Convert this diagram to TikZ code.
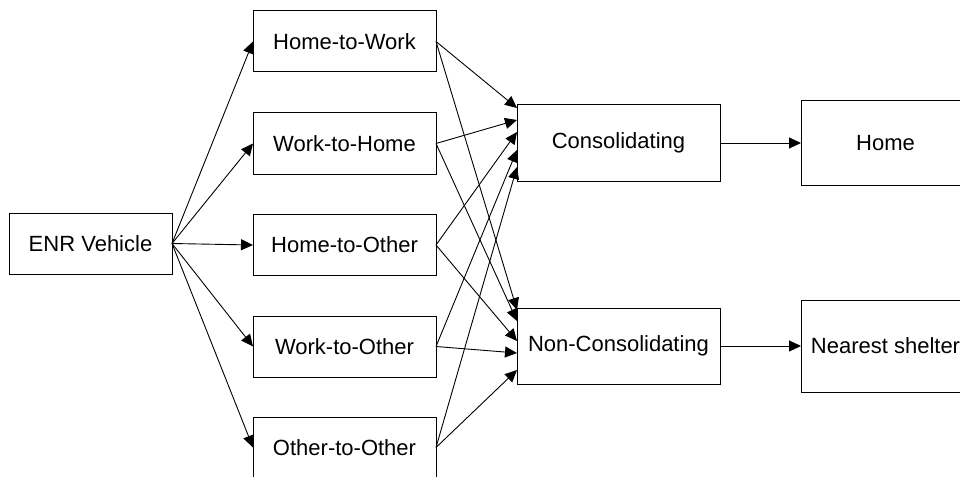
\documentclass[tikz,border=0pt]{standalone}
\usepackage{fontspec}
\setmainfont{Liberation Sans}
\usetikzlibrary{arrows.meta}
\begin{document}
\begin{tikzpicture}[x=1pt,y=-1pt,
  box/.style={draw=black,line width=1pt,inner sep=0pt,outer sep=0pt,
    font=\fontsize{22}{26}\selectfont,minimum width=183pt,minimum height=61pt},
  bigbox/.style={box,minimum width=203pt,minimum height=76pt},
  arr/.style={draw=black,line width=0.9pt,-{Triangle[length=12pt,width=11pt]}}]
\useasboundingbox (0,0) rectangle (960,476);
% source
\node[box,minimum width=163pt] (enr) at (90.5,243.5) {ENR Vehicle};
% trip types
\node[box] (hw) at (344.5,41.5)  {Home-to-Work};
\node[box] (wh) at (344.5,143.5) {Work-to-Home};
\node[box] (ho) at (344.5,245)   {Home-to-Other};
\node[box] (wo) at (344.5,346.5) {Work-to-Other};
\node[box] (oo) at (344.5,447.5) {Other-to-Other};
% behaviour
\node[bigbox] (cons)  at (618.5,143) {Consolidating};
\node[bigbox] (ncons) at (618.5,346) {Non-Consolidating};
% destinations
\node[box,minimum width=169pt,minimum height=84pt] (home) at (885.5,143) {Home};
\node[box,minimum width=169pt,minimum height=92pt] (shelter) at (885.5,346) {Nearest shelter};
% vehicle to trip types
\foreach \t in {hw,wh,ho,wo,oo}
  \draw[arr] (enr.east) -- (\t.west);
% trip types to consolidating
\draw[arr] (hw.east) -- ([yshift=35pt]cons.west);
\draw[arr] (wh.east) -- ([yshift=23pt]cons.west);
\draw[arr] (ho.east) -- ([yshift=11pt]cons.west);
\draw[arr] (wo.east) -- ([yshift=-7pt]cons.west);
\draw[arr] (oo.east) -- ([yshift=-24pt]cons.west);
% trip types to non-consolidating
\draw[arr] (hw.east) -- ([yshift=36pt]ncons.west);
\draw[arr] (wh.east) -- ([yshift=25pt]ncons.west);
\draw[arr] (ho.east) -- ([yshift=5pt]ncons.west);
\draw[arr] (wo.east) -- ([yshift=-7pt]ncons.west);
\draw[arr] (oo.east) -- ([yshift=-24pt]ncons.west);
% behaviour to destination
\draw[arr] (cons.east) -- (home.west);
\draw[arr] (ncons.east) -- (shelter.west);
\end{tikzpicture}
\end{document}
